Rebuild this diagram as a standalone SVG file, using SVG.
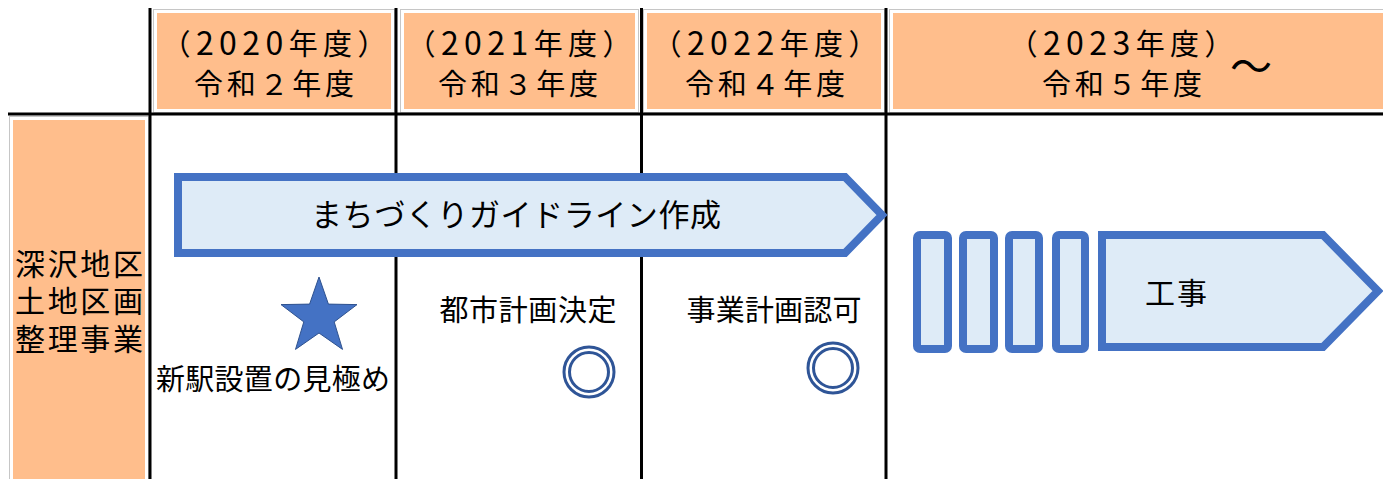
<svg xmlns="http://www.w3.org/2000/svg" width="1383" height="479" viewBox="0 0 1383 479">
<style>
.t{font-family:"Noto Sans CJK JP","Noto Sans",sans-serif;fill:#000;}
.h{font-size:29px;text-anchor:middle;font-feature-settings:"halt";}
.d{font-size:32px;}
.cell{fill:#FFBE8C;stroke:#FFFFFF;stroke-width:2;}
.cellb{fill:#FFFFFF;stroke:#C6C6C6;stroke-width:1;}
.grid{stroke:#000;stroke-width:3;fill:none;}
.bar{fill:#DEEBF7;stroke:#4472C4;stroke-width:8;}
.ring{fill:none;stroke:#2F5597;stroke-width:3;}
</style>
<rect width="1383" height="479" fill="#FFFFFF"/>
<g id="header-2020">
<rect class="cellb" x="153.5" y="9.5" width="241" height="103"/>
<rect class="cell" x="156" y="12" width="236" height="98"/>
<text class="t h" x="274" y="55" textLength="196" lengthAdjust="spacing">（<tspan class="d">2020</tspan>年度）</text>
<text class="t h" x="274" y="95" textLength="160" lengthAdjust="spacing">令和２年度</text>
</g>
<g id="header-2021">
<rect class="cellb" x="400.5" y="9.5" width="238" height="103"/>
<rect class="cell" x="403" y="12" width="233" height="98"/>
<text class="t h" x="519" y="55" textLength="196" lengthAdjust="spacing">（<tspan class="d">2021</tspan>年度）</text>
<text class="t h" x="518" y="95" textLength="160" lengthAdjust="spacing">令和３年度</text>
</g>
<g id="header-2022">
<rect class="cellb" x="643.5" y="9.5" width="241" height="103"/>
<rect class="cell" x="646" y="12" width="236" height="98"/>
<text class="t h" x="765" y="55" textLength="196" lengthAdjust="spacing">（<tspan class="d">2022</tspan>年度）</text>
<text class="t h" x="765" y="95" textLength="160" lengthAdjust="spacing">令和４年度</text>
</g>
<g id="header-2023">
<rect class="cellb" x="889.5" y="9.5" width="500" height="103"/>
<rect class="cell" x="892" y="12" width="500" height="98"/>
<text class="t h" x="1121" y="55" textLength="196" lengthAdjust="spacing">（<tspan class="d">2023</tspan>年度）</text>
<text class="t h" x="1122" y="95" textLength="160" lengthAdjust="spacing">令和５年度</text>
<text class="t" x="1251" y="82" font-size="42" text-anchor="middle">～</text>
</g>
<g id="row-label">
<rect class="cellb" x="9.5" y="116.5" width="139" height="370"/>
<rect class="cell" x="12" y="119" width="134" height="370"/>
<text class="t" x="79" y="275" font-size="30" text-anchor="middle" textLength="128" lengthAdjust="spacing">深沢地区</text>
<text class="t" x="79" y="312" font-size="30" text-anchor="middle" textLength="128" lengthAdjust="spacing">土地区画</text>
<text class="t" x="79" y="350" font-size="30" text-anchor="middle" textLength="128" lengthAdjust="spacing">整理事業</text>
</g>
<g id="connectors">
<line class="grid" x1="150" y1="8" x2="150" y2="479"/>
<line class="grid" x1="396" y1="8" x2="396" y2="479"/>
<line class="grid" x1="641.5" y1="8" x2="641.5" y2="479"/>
<line class="grid" x1="886" y1="8" x2="886" y2="479"/>
<line class="grid" x1="8" y1="114" x2="1383" y2="114"/>
</g>
<g id="guideline">
<polygon class="bar" points="178,177 845,177 882,215 845,253 178,253" stroke-linejoin="miter"/>
<text class="t" x="516" y="226" font-size="31" text-anchor="middle" textLength="410" lengthAdjust="spacing">まちづくりガイドライン作成</text>
</g>
<g id="new-station">
<polygon points="319,277 328.4,304.1 357,304.6 334.2,321.9 342.5,349.4 319,333 295.5,349.4 303.8,321.9 281,304.6 309.6,304.1" fill="#4472C4" stroke="#2F528F" stroke-width="1"/>
<text class="t" x="273" y="390" font-size="29" text-anchor="middle" textLength="234" lengthAdjust="spacing">新駅設置の見極め</text>
</g>
<g id="city-plan">
<text class="t" x="528" y="321" font-size="29" text-anchor="middle" textLength="177" lengthAdjust="spacing">都市計画決定</text>
<circle class="ring" cx="589" cy="372" r="25"/>
<circle class="ring" cx="589" cy="372" r="19.5"/>
</g>
<g id="project-approval">
<text class="t" x="774" y="321" font-size="29" text-anchor="middle" textLength="175" lengthAdjust="spacing">事業計画認可</text>
<circle class="ring" cx="833" cy="368" r="25"/>
<circle class="ring" cx="833" cy="368" r="19.5"/>
</g>
<g id="construction">
<rect class="bar" x="917" y="235" width="31" height="114" rx="3"/>
<rect class="bar" x="963" y="235" width="31" height="114" rx="3"/>
<rect class="bar" x="1009" y="235" width="30" height="114" rx="3"/>
<rect class="bar" x="1056" y="235" width="29" height="114" rx="3"/>
<polygon class="bar" points="1102,235 1323,235 1378,291 1323,347 1102,347"/>
<text class="t" x="1176" y="304" font-size="30" text-anchor="middle" textLength="62" lengthAdjust="spacing">工事</text>
</g>
</svg>
